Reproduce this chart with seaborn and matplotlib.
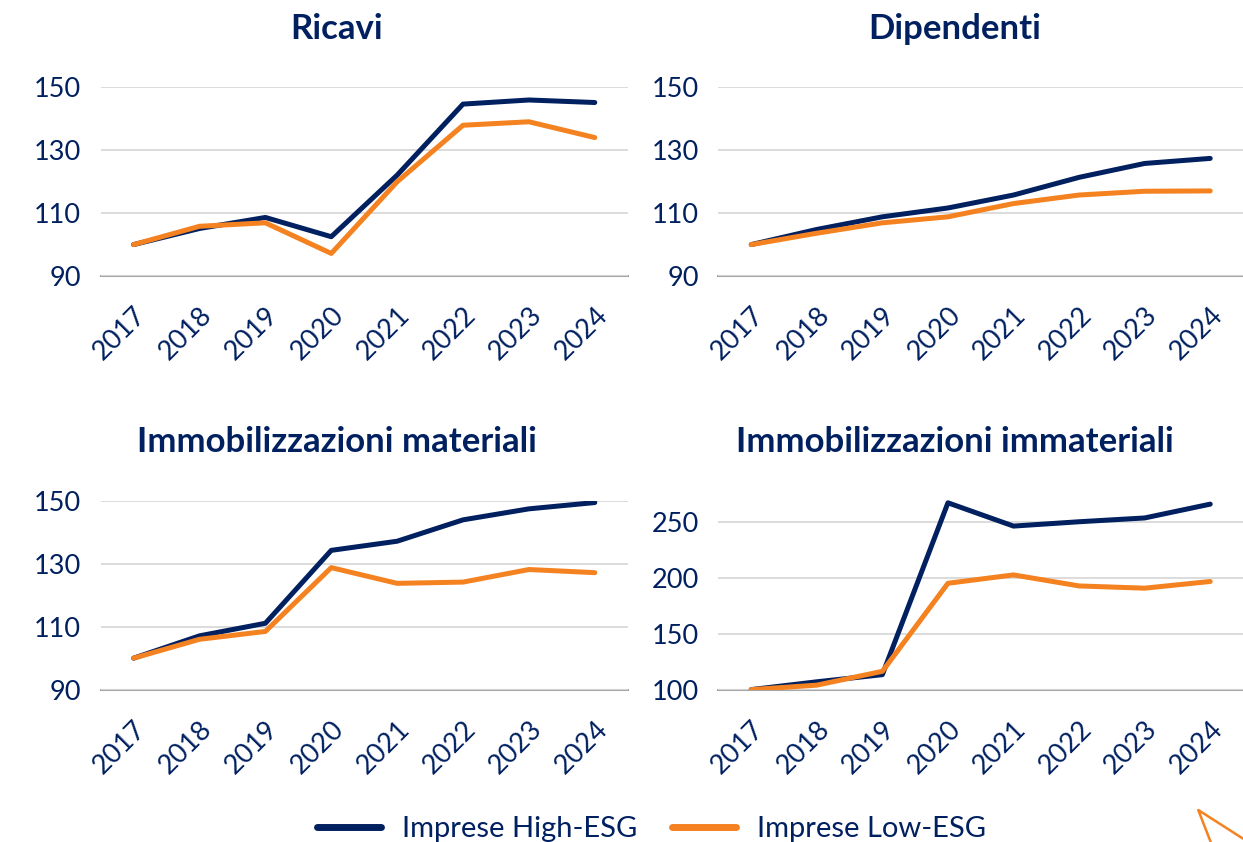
import numpy as np
import pandas as pd
import matplotlib
matplotlib.use("Agg")
import matplotlib.pyplot as plt
import seaborn as sns

years = ["2017", "2018", "2019", "2020", "2021", "2022", "2023", "2024"]

# indici (2017 = 100)
ricavi_high = [100, 105.1, 108.6, 102.5, 122.0, 144.5, 145.8, 145.0]
ricavi_low = [100, 105.8, 106.9, 97.2, 119.9, 137.8, 138.9, 133.9]
dip_high = [100, 104.8, 108.8, 111.6, 115.7, 121.3, 125.7, 127.3]
dip_low = [100, 103.6, 106.9, 108.8, 113.0, 115.7, 116.9, 117.0]
mat_high = [100, 107.1, 111.1, 134.3, 137.2, 144.0, 147.5, 149.5]
mat_low = [100, 106.0, 108.5, 128.8, 123.8, 124.2, 128.2, 127.2]
immat_high = [100, 107.0, 113.4, 267.6, 246.7, 250.6, 254.0, 266.4]
immat_low = [100, 104.0, 116.4, 195.4, 202.9, 193.0, 191.0, 197.0]

series_names = ["Imprese High-ESG", "Imprese Low-ESG"]
titles = ["Ricavi", "Dipendenti", "Immobilizzazioni materiali", "Immobilizzazioni immateriali"]

NAVY = "#002060"
ORANGE = "#F58220"

sns.set_theme(style="white")
plt.rcParams["font.family"] = ["Lato", "DejaVu Sans"]

panels = [
    (ricavi_high, ricavi_low, (90, 150), [90, 110, 130, 150]),
    (dip_high, dip_low, (90, 150), [90, 110, 130, 150]),
    (mat_high, mat_low, (90, 150), [90, 110, 130, 150]),
    (immat_high, immat_low, (100, 273), [100, 150, 200, 250]),
]

# posizioni assi [left, bottom, width, height] in frazione di figura
boxes = [
    [0.081, 0.672, 0.424, 0.225],
    [0.578, 0.672, 0.422, 0.225],
    [0.081, 0.181, 0.424, 0.224],
    [0.578, 0.181, 0.422, 0.229],
]
title_pos = [(0.271, 0.966), (0.768, 0.966), (0.271, 0.475), (0.768, 0.475)]

fig = plt.figure(figsize=(12.43, 8.42), dpi=100)

for i, (high, low, ylim, yticks) in enumerate(panels):
    ax = fig.add_axes(boxes[i])
    df = pd.DataFrame({
        "anno": years * 2,
        "valore": high + low,
        "serie": [series_names[0]] * len(years) + [series_names[1]] * len(years),
    })
    sns.lineplot(data=df, x="anno", y="valore", hue="serie",
                 palette=[NAVY, ORANGE], linewidth=3.6, ax=ax, legend=False,
                 sort=False, solid_capstyle="round")
    ax.set_xlim(-0.5, len(years) - 0.5)
    ax.set_ylim(*ylim)
    ax.set_yticks(yticks)
    ax.set_xlabel("")
    ax.set_ylabel("")
    ax.grid(axis="y", color="#D9D9D9", linewidth=1.3)
    ax.set_axisbelow(True)
    for s in ["top", "right", "left"]:
        ax.spines[s].set_visible(False)
    ax.spines["bottom"].set_color("#A6A6A6")
    ax.spines["bottom"].set_linewidth(1.5)
    ax.spines["bottom"].set_zorder(0.5)
    ax.tick_params(axis="both", length=0, colors=NAVY, labelsize=19.5)
    ax.tick_params(axis="y", pad=14)
    plt.setp(ax.get_xticklabels(), rotation=45, ha="right", rotation_mode="anchor")
    ax.tick_params(axis="x", pad=19)
    fig.text(title_pos[i][0], title_pos[i][1], titles[i], ha="center", va="center",
             fontsize=25, fontweight="bold", color=NAVY)

handles = [plt.Line2D([], [], color=NAVY, linewidth=5),
           plt.Line2D([], [], color=ORANGE, linewidth=5)]
fig.legend(handles, series_names, loc="center", bbox_to_anchor=(0.524, 0.015),
           ncol=2, frameon=False, fontsize=21, labelcolor=NAVY,
           handlelength=2.2, columnspacing=1.2, handletextpad=0.7)

# frammento di logo in basso a destra
fig.add_artist(plt.Line2D([0.974, 0.964, 1.0], [0.0, 0.038, 0.004], color=ORANGE,
                          linewidth=1.8, transform=fig.transFigure))

fig.savefig("out.png", dpi=100)
